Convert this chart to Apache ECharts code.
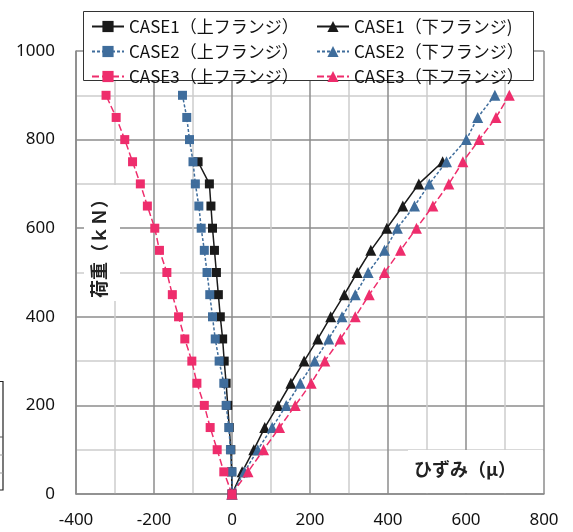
<!DOCTYPE html>
<html><head><meta charset="utf-8">
<script src="https://cdn.jsdelivr.net/npm/echarts@6/dist/echarts.min.js"></script>
<style>html,body{margin:0;padding:0;background:#fff}#c{width:573px;height:532px}</style>
</head><body><div id="c"></div>
<script>
const loads = [0,50,100,150,200,250,300,350,400,450,500,550,600,650,700,750,800,850,900];
const case1Upper = [0,-1,-3,-7,-11,-15,-20,-24,-30,-35,-40,-45,-50,-54,-58,-87];
const case2Upper = [0,0,-4,-8,-15,-21,-33,-43,-50,-57,-64,-71,-79,-85,-94,-100,-109,-116,-127];
const case3Upper = [0,-21,-38,-56,-71,-90,-103,-121,-137,-153,-167,-186,-198,-217,-235,-255,-275,-297,-323];
const case1Lower = [0,26,56,84,118,151,185,220,253,288,321,356,397,438,479,540];
const case2Lower = [0,32,66,103,139,175,212,248,282,316,349,391,424,468,506,550,601,630,674];
const case3Lower = [0,41,81,122,162,203,238,278,316,352,391,432,473,515,556,592,634,677,711];
const names = ['CASE1（上フランジ）','CASE1（下フランジ)','CASE2（上フランジ）','CASE2（下フランジ）','CASE3（上フランジ）','CASE3（下フランジ）'];
const xTicks = [-400,-200,0,200,400,600,800];
const yTicks = [0,200,400,600,800,1000];
const xTitle = 'ひずみ（μ）';
const yTitle = '荷重（ｋＮ）';

const BLACK = '#1a1a1a', BLUE = '#3f6d9c', PINK = '#ee2d6c';
const pairs = arr => arr.map((v,i)=>[v, loads[i]]);
function mk(name, arr, color, sym, size, dash){
  return {name, type:'line', data:pairs(arr), symbol:sym, symbolSize:size,
    showSymbol:true, animation:false,
    itemStyle:{color:color},
    lineStyle:{color:color, width:1.5, type:dash}};
}
const series = [
  mk(names[0], case1Upper, BLACK, 'rect', 9, 'solid'),
  mk(names[1], case1Lower, BLACK, 'triangle', 11, 'solid'),
  mk(names[2], case2Upper, BLUE, 'rect', 9, [3,2]),
  mk(names[3], case2Lower, BLUE, 'triangle', 11, [3,2]),
  mk(names[4], case3Upper, PINK, 'rect', 9, [7,3]),
  mk(names[5], case3Lower, PINK, 'triangle', 11, [7,3])
];
const legendCommon = {orient:'vertical', itemWidth:32, itemHeight:14, itemGap:8, z:10,
  textStyle:{fontFamily:'Noto Sans CJK JP', fontSize:17, color:'#111', lineHeight:15}};
const chart = echarts.init(document.getElementById('c'));
const fmt = v => String(v);
chart.setOption({
  animation:false,
  grid:{left:76, top:51, right:29, bottom:38},
  legend:[
    Object.assign({left:86, top:13, data:[names[0],names[2],names[4]]}, legendCommon),
    Object.assign({left:311, top:13, data:[names[1],names[3],names[5]]}, legendCommon)
  ],
  xAxis:{type:'value', min:xTicks[0], max:xTicks[xTicks.length-1], interval:200,
    axisLine:{lineStyle:{color:'#8a8a8a', width:1.5}},
    axisTick:{show:false},
    axisLabel:{fontFamily:'Noto Sans', fontSize:17, color:'#111', margin:18, formatter:fmt},
    splitLine:{show:true, lineStyle:{color:'#8c8c8c', width:1.5}},
    minorTick:{show:false, splitNumber:2},
    minorSplitLine:{show:true, lineStyle:{color:'#cdcdcd', width:1.5}}},
  yAxis:{type:'value', min:yTicks[0], max:yTicks[yTicks.length-1], interval:200,
    axisLine:{show:true, onZero:false, lineStyle:{color:'#8a8a8a', width:1.5}},
    axisTick:{show:false},
    axisLabel:{fontFamily:'Noto Sans', fontSize:17, color:'#111', margin:21, formatter:fmt},
    splitLine:{show:true, lineStyle:{color:'#8c8c8c', width:1.5}},
    minorTick:{show:false, splitNumber:2},
    minorSplitLine:{show:true, lineStyle:{color:'#cdcdcd', width:1.5}}},
  graphic:[
    {type:'rect', z:5, shape:{x:83.5, y:11.5, width:450, height:69}, style:{fill:'#fff', stroke:'#333', lineWidth:1}},
    {type:'rect', z:1, shape:{x:84, y:185, width:36, height:116}, style:{fill:'#fff'}},
    {type:'text', z:2, x:99, y:244, rotation:Math.PI/2, style:{text:yTitle, fontFamily:'Noto Sans CJK JP', fontWeight:'bold', fontSize:18, fill:'#222', align:'center', verticalAlign:'middle'}},
    {type:'rect', z:1, shape:{x:408, y:450, width:135, height:43}, style:{fill:'#fff'}},
    {type:'text', z:2, x:465, y:469, style:{text:xTitle, fontFamily:'Noto Sans CJK JP', fontWeight:'bold', fontSize:18, fill:'#222', align:'center', verticalAlign:'middle'}},
    {type:'rect', z:1, shape:{x:-5, y:381.5, width:8, height:108.5}, style:{fill:'#fff', stroke:'#222', lineWidth:1.2}},
    {type:'line', z:2, shape:{x1:0, y1:437, x2:3, y2:437}, style:{stroke:'#555', lineWidth:1}},
    {type:'line', z:2, shape:{x1:0, y1:455, x2:3, y2:455}, style:{stroke:'#999', lineWidth:1}},
    {type:'line', z:2, shape:{x1:0, y1:473, x2:3, y2:473}, style:{stroke:'#999', lineWidth:1}}
  ],
  series:series
});
</script></body></html>
